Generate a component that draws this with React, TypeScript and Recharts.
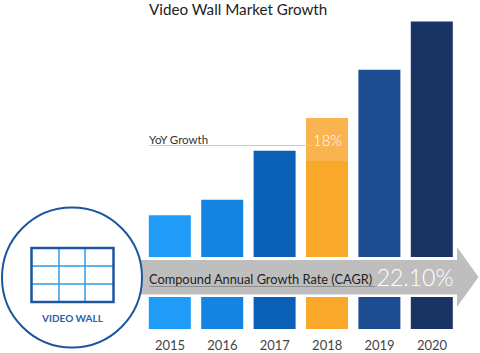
import { ComposedChart, Bar, XAxis, YAxis, Cell } from "recharts";

const years = ["2015", "2016", "2017", "2018", "2019", "2020"];
const baseValues = [37, 42, 58, 54.6, 84.3, 100];
const growthValues = [0, 0, 0, 14, 0, 0];
const barColors = ["#1E9CF8", "#1584E0", "#0A60B6", "#F9A829", "#1C4C91", "#193364"];

const data = years.map((year, i) => ({
  year,
  base: baseValues[i],
  growth: growthValues[i],
}));

const FONT = 'Lato, sans-serif';

function Overlay() {
  return (
    <svg
      width={480}
      height={353}
      style={{ position: "absolute", left: 0, top: 0, fontFamily: FONT }}
    >
      <text x={149} y={15} fontSize={15.2} fill="#222">
        Video Wall Market Growth
      </text>

      <text x={149} y={144} fontSize={11.5} fill="#333">
        YoY Growth
      </text>
      <line x1={149} y1={145.5} x2={312} y2={145.5} stroke="#C3CBDD" strokeWidth={1} />
      <text x={327.5} y={146} fontSize={15} fontWeight={300} fill="#fff" textAnchor="middle">
        18%
      </text>

      {/* white band behind the arrow */}
      <rect x={140} y={257} width={320} height={40} fill="#fff" />
      <polygon
        points="140,260 457,260 457,247 478.5,277 457,307 457,294.5 140,294.5"
        fill="#BEBEBE"
      />
      <text x={149} y={284} fontSize={12.8} fill="#222">
        Compound Annual Growth Rate (CAGR)
      </text>
      <line x1={149} y1={286.5} x2={375} y2={286.5} stroke="#8E8E8E" strokeWidth={1} />
      <text x={415} y={286} fontSize={23} fontWeight={300} fill="#fff" textAnchor="middle">
        22.10%
      </text>

      {/* video wall badge */}
      <circle cx={72} cy={277.5} r={70} fill="#fff" stroke="#1D569F" strokeWidth={2} />
      {[59, 85].map((x) => (
        <line key={x} x1={x} y1={248} x2={x} y2={302} stroke="#2E9BE8" strokeWidth={1.5} />
      ))}
      {[266, 284].map((y) => (
        <line key={y} x1={31} y1={y} x2={113} y2={y} stroke="#2E9BE8" strokeWidth={1.5} />
      ))}
      <rect x={31.5} y={248} width={82} height={54} fill="none" stroke="#1D569F" strokeWidth={2.5} />
      <text
        x={72.5}
        y={322}
        fontSize={10}
        fontWeight={700}
        fill="#2C5FA8"
        textAnchor="middle"
      >
        VIDEO WALL
      </text>
    </svg>
  );
}

export default function App() {
  return (
    <div style={{ position: "absolute", left: 0, top: 0, width: 480, height: 353, background: "#fff" }}>
      <ComposedChart
        width={480}
        height={353}
        data={data}
        margin={{ top: 21.5, right: 21.8, bottom: 0, left: 143.8 }}
        barCategoryGap={0}
      >
        <XAxis
          dataKey="year"
          height={24}
          axisLine={false}
          tickLine={false}
          interval={0}
          tickMargin={6}
          tick={{ fill: "#444", fontSize: 13, fontFamily: FONT }}
        />
        <YAxis hide domain={[0, 100]} />
        <Bar dataKey="base" stackId="a" barSize={42} isAnimationActive={false}>
          {data.map((d, i) => (
            <Cell key={d.year} fill={barColors[i]} />
          ))}
        </Bar>
        <Bar dataKey="growth" stackId="a" barSize={42} fill="#F9B44F" isAnimationActive={false} />
      </ComposedChart>
      <Overlay />
    </div>
  );
}
